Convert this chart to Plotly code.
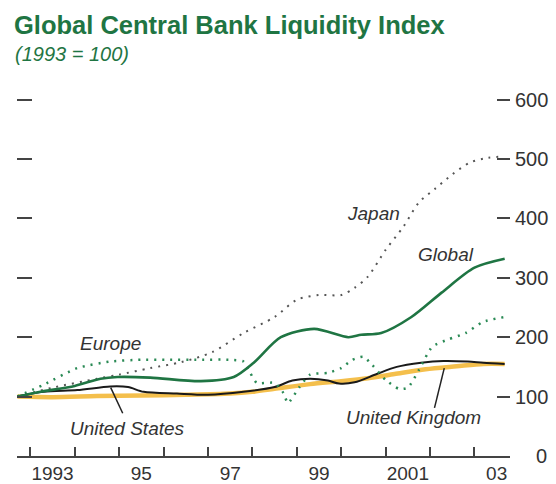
import plotly.graph_objects as go

# ---- data ----
global_x = [1992.71, 1993.23, 1994.0, 1994.58, 1994.96, 1995.7, 1996.84, 1997.58, 1998.03, 1998.64,
            1999.39, 2000.16, 2000.45, 2000.9, 2001.58, 2002.26, 2003.0, 2003.68]
global_y = [100, 108, 118, 130, 133, 132, 126, 133, 157, 200, 214, 200, 204, 207, 234, 275, 317, 332]

japan_x = [1992.71, 1993.5, 1994.5, 1995.0, 1995.7, 1996.4, 1997.1, 1997.8, 1998.5, 1999.0, 1999.5,
           2000.0, 2000.3, 2000.6, 2001.0, 2001.4, 2001.75, 2002.1, 2002.5, 2002.9, 2003.3, 2003.68]
japan_y = [100, 115, 130, 137, 148, 158, 175, 207, 234, 263, 271, 271, 283, 302, 347, 386, 427, 449,
           474, 494, 502, 504]

europe_x = [1992.71, 1993.3, 1994.06, 1994.8, 1995.5, 1996.1, 1996.8, 1997.5, 1997.8, 1997.95, 1998.1,
            1998.5, 1998.7, 1998.8, 1999.05, 1999.3, 1999.7, 2000.0, 2000.25, 2000.5, 2000.7, 2001.0,
            2001.3, 2001.5, 2001.75, 2002.05, 2002.4, 2002.8, 2003.2, 2003.68]
europe_y = [100, 120, 148, 159, 162, 162, 162, 162, 159, 140, 123, 123, 106, 89, 115, 137, 140, 148,
            162, 167, 153, 128, 113, 115, 145, 184, 196, 207, 226, 234]

us_x = [1992.71, 1993.3, 1994.06, 1994.8, 1995.2, 1995.55, 1996.3, 1997.0, 1997.8, 1998.5, 1998.9,
        1999.3, 1999.7, 1999.95, 2000.3, 2000.8, 2001.25, 2001.8, 2002.3, 2002.85, 2003.2, 2003.68]
us_y = [100, 108, 111, 117, 116, 108, 105, 103, 108, 116, 127, 130, 127, 122, 124, 138, 150, 157, 160,
        159, 157, 155]

uk_x = [1992.71, 1993.5, 1994.5, 1995.5, 1996.5, 1997.5, 1998.0, 1998.5, 1999.3, 2000.0, 2000.6,
        2001.2, 2001.9, 2002.6, 2003.2, 2003.68]
uk_y = [100, 99, 101, 102, 103, 105, 108, 113, 121, 126, 131, 138, 146, 151, 155, 155]

year_ticks = list(range(1993, 2004))
year_label_pos = [1993.5, 1995.5, 1997.5, 1999.5, 2001.5, 2003.5]
year_labels = ["1993", "95", "97", "99", "2001", "03"]
y_ticks = [100, 200, 300, 400, 500, 600]
y_labels = ["100", "200", "300", "400", "500", "600"]

GREEN = "#1f7543"
GRAY = "#444444"
FONT = "Liberation Sans, Arial, sans-serif"

fig = go.Figure()
fig.add_trace(go.Scatter(x=uk_x, y=uk_y, mode="lines",
                         line=dict(color="#f4bf4c", width=4.5, shape="spline", smoothing=0.8)))
fig.add_trace(go.Scatter(x=us_x, y=us_y, mode="lines",
                         line=dict(color="#1a1a1a", width=2, shape="spline", smoothing=0.8)))
fig.add_trace(go.Scatter(x=europe_x, y=europe_y, mode="lines",
                         line=dict(color="#2a8a55", width=2.5, dash="2px,6px", shape="spline",
                                   smoothing=0.6)))
fig.add_trace(go.Scatter(x=japan_x, y=japan_y, mode="lines",
                         line=dict(color="#555555", width=2, dash="2px,6px", shape="spline",
                                   smoothing=0.8)))
fig.add_trace(go.Scatter(x=global_x, y=global_y, mode="lines",
                         line=dict(color=GREEN, width=2.6, shape="spline", smoothing=0.8)))
# invisible traces to bind the overlay axes
fig.add_trace(go.Scatter(x=[1993], y=[100], xaxis="x2", yaxis="y", mode="markers",
                         marker=dict(opacity=0), hoverinfo="skip"))
fig.add_trace(go.Scatter(x=[1993], y=[100], xaxis="x", yaxis="y2", mode="markers",
                         marker=dict(opacity=0), hoverinfo="skip"))

YR = [0, 606]
fig.update_layout(
    width=556, height=484,
    margin=dict(l=17, r=46, t=96, b=28, autoexpand=False),
    plot_bgcolor="white", paper_bgcolor="white",
    showlegend=False,
    font=dict(family=FONT, color="#333333"),
    title=dict(text="<b>Global Central Bank Liquidity Index</b>", xref="container", yref="container",
               x=14 / 556, y=1 - 25 / 484, xanchor="left", yanchor="middle",
               font=dict(size=25.5, color=GREEN, family=FONT)),
    xaxis=dict(range=[1992.7, 2003.8], showgrid=False, zeroline=False, automargin=False,
               showline=True, linecolor=GRAY, linewidth=1.5,
               tickmode="array", tickvals=year_ticks, showticklabels=False,
               ticks="inside", ticklen=9, tickwidth=1.5, tickcolor=GRAY),
    xaxis2=dict(range=[1992.7, 2003.8], overlaying="x", anchor="y", side="bottom",
                showgrid=False, zeroline=False, showline=False, automargin=False,
                tickmode="array", tickvals=year_label_pos, ticktext=year_labels,
                ticks="", ticklabelstandoff=4, tickfont=dict(size=19, color="#333333")),
    yaxis=dict(range=YR, showgrid=False, zeroline=False, showline=False, automargin=False,
               tickmode="array", tickvals=y_ticks, showticklabels=False,
               ticks="inside", ticklen=15, tickwidth=2, tickcolor=GRAY),
    yaxis2=dict(range=YR, overlaying="y", anchor="x", side="right",
                showgrid=False, zeroline=False, showline=False, automargin=False,
                tickmode="array", tickvals=y_ticks, ticktext=y_labels,
                ticks="inside", ticklen=13, tickwidth=2, tickcolor=GRAY, ticklabelstandoff=4,
                tickfont=dict(size=20, color="#333333")),
)

ann = []
ann.append(dict(text="<i>(1993 = 100)</i>", xref="paper", yref="paper",
                x=-0.008, y=(456 - 58) / 356, xanchor="left", yanchor="middle", showarrow=False,
                font=dict(size=20, color=GREEN, family=FONT)))
ann.append(dict(text="0", xref="paper", yref="y", x=(549 - 17) / 493, y=0, xanchor="right",
                yanchor="middle", showarrow=False, font=dict(size=20, color="#333333")))
labels = [("Japan", 2000.72, 409), ("Global", 2002.37, 340), ("Europe", 1994.81, 189),
          ("United States", 1995.19, 47), ("United Kingdom", 2001.62, 64)]
for t, x, y in labels:
    ann.append(dict(text="<i>" + t + "</i>", x=x, y=y, xref="x", yref="y", showarrow=False,
                    xanchor="center", yanchor="middle", font=dict(size=19, color="#333333")))
fig.update_layout(annotations=ann)

fig.add_shape(type="line", x0=1994.81, y0=115, x1=1995.08, y1=72, xref="x", yref="y",
              line=dict(color="#222222", width=1.5))
fig.add_shape(type="line", x0=2002.32, y0=148, x1=2002.1, y1=81, xref="x", yref="y",
              line=dict(color="#222222", width=1.5))

fig.write_html("out.html")
